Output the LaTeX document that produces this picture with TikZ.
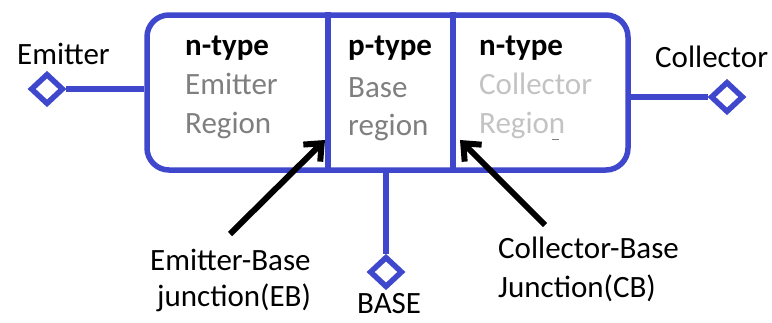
\documentclass[tikz,border=0pt]{standalone}
\usepackage{fontspec}
\setmainfont{Carlito}
\usetikzlibrary{shapes.geometric,arrows.meta}
\definecolor{blu}{HTML}{3F48CC}
\definecolor{midgrey}{HTML}{7F7F7F}
\definecolor{lightgrey}{HTML}{C3C3C3}
\begin{document}
\begin{tikzpicture}[x=1pt,y=-1pt,
  wire/.style={draw=blu, line width=5.5pt},
  term/.style={shape=diamond, draw=blu, fill=white, line width=5.5pt, minimum width=33pt, minimum height=31pt, inner sep=0pt},
  lbl/.style={anchor=base west, inner sep=0pt, font=\fontsize{31pt}{39pt}\selectfont},
  hd/.style={anchor=base west, inner sep=0pt, font=\fontsize{31pt}{39pt}\selectfont\bfseries},
  pointer/.style={line width=6pt, -{Straight Barb[length=14pt,width=24pt]}}
]
\useasboundingbox (0,0) rectangle (772,322);

% device body
\node[draw=blu, line width=5.5pt, rounded corners=22pt, minimum width=481pt, minimum height=155pt, inner sep=0pt] (dev) at (387.5,92.5) {};
\coordinate (j1) at (328,92.5);
\coordinate (j2) at (453,92.5);
\draw[wire] (j1 |- dev.north) -- (j1 |- dev.south);
\draw[wire] (j2 |- dev.north) -- (j2 |- dev.south);

% terminals
\node[term] (ed) at (47,89) {};
\node[term] (cd) at (727,97) {};
\node[term] (bd) at (386,272) {};
\draw[wire] (ed.east) -- (ed.east -| dev.west);
\draw[wire] (dev.east |- cd.west) -- (cd.west);
\draw[wire] (bd.north |- dev.south) -- (bd.north);

% region texts
\node[hd] (n1a) at (185,55) {n-type};
\node[lbl, text=midgrey] (n1b) at (185,94) {Emitter};
\node[lbl, text=midgrey] (n1c) at (185,133) {Region};

\node[hd] (pa) at (348,55) {p-type};
\node[lbl, text=midgrey] (pb) at (348,97) {Base};
\node[lbl, text=midgrey] (pc) at (348,135) {region};

\node[hd] (n2a) at (479,55) {n-type};
\node[lbl, text=lightgrey] (n2b) at (479,94) {Collector};
\node[lbl, text=lightgrey] (n2c) at (479,133) {Regio\rlap{\kern3pt\textcolor{midgrey}{\rule[-7pt]{7pt}{1.5pt}}}n};

% terminal labels
\node[lbl] (el) at (17,64) {Emitter};
\node[lbl] (cl) at (655,67) {Collector};
\node[lbl, text depth=0pt] (bl) at (357,313) {BASE};

% junction labels
\node[lbl] (eb1) at (150,270) {Emitter-Base};
\node[lbl] (eb2) at (157,306) {junction(EB)};
\node[lbl] (cb1) at (498,258) {Collector-Base};
\node[lbl] (cb2) at (498,297) {Junction(CB)};

% pointers
\coordinate (ebtail) at (230,234);
\coordinate (ebtip) at (325,140);
\coordinate (cbtail) at (545,225);
\coordinate (cbtip) at (460,140);
\draw[pointer] (ebtail) -- (ebtip);
\draw[pointer] (cbtail) -- (cbtip);
\end{tikzpicture}
\end{document}
